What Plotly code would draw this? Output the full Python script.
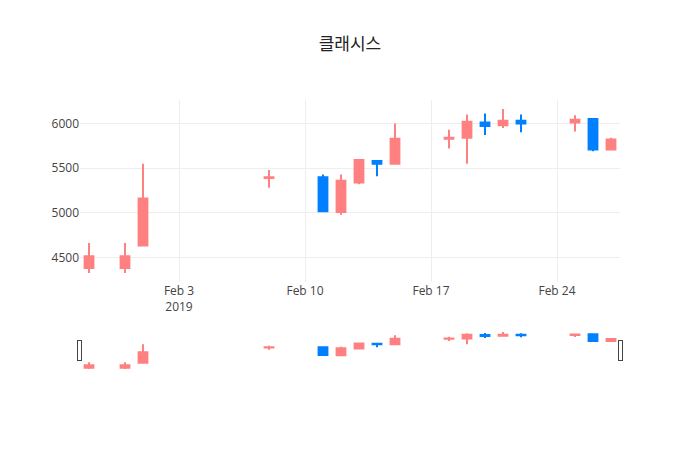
import plotly.graph_objects as go

dates = ["2019-01-29", "2019-01-31", "2019-02-01", "2019-02-08", "2019-02-11",
         "2019-02-12", "2019-02-13", "2019-02-14", "2019-02-15", "2019-02-18",
         "2019-02-19", "2019-02-20", "2019-02-21", "2019-02-22", "2019-02-25",
         "2019-02-26", "2019-02-27"]
opens = [4385, 4385, 4635, 5390, 5400, 5010, 5340, 5580, 5550, 5830,
         5840, 6010, 5980, 6030, 6010, 6050, 5710]
highs = [4665, 4665, 5550, 5480, 5430, 5430, 5600, 5580, 6000, 5930,
         6100, 6110, 6160, 6100, 6090, 6050, 5840]
lows = [4330, 4330, 4630, 5280, 5020, 4980, 5320, 5410, 5550, 5720,
        5550, 5870, 5950, 5900, 5910, 5690, 5710]
closes = [4515, 4515, 5160, 5400, 5020, 5360, 5590, 5550, 5830, 5840,
          6020, 5970, 6030, 6000, 6040, 5710, 5820]

title_text = "클래시스"

inc_color = "#FF8080"
dec_color = "#007FFF"

fig = go.Figure(go.Candlestick(
    x=dates, open=opens, high=highs, low=lows, close=closes,
    increasing=dict(line=dict(color=inc_color), fillcolor=inc_color),
    decreasing=dict(line=dict(color=dec_color), fillcolor=dec_color),
))

fig.update_layout(
    template="none",
    title=dict(text=title_text, x=0.4942, xanchor="center",
               y=0.9186, yref="container", yanchor="middle",
               font=dict(family="Noto Sans CJK KR, Open Sans, sans-serif", size=17, color="#222")),
    width=692, height=442,
    margin=dict(l=72, r=80, t=92, b=80),
    showlegend=False,
    paper_bgcolor="white", plot_bgcolor="white",
    font=dict(family="Open Sans, sans-serif", color="#444", size=12),
)
fig.update_xaxes(gridcolor="#eee", zeroline=False, linecolor="#444", showline=False)
fig.update_yaxes(gridcolor="#eee", zeroline=False, showline=False)

fig.write_html("out.html")
